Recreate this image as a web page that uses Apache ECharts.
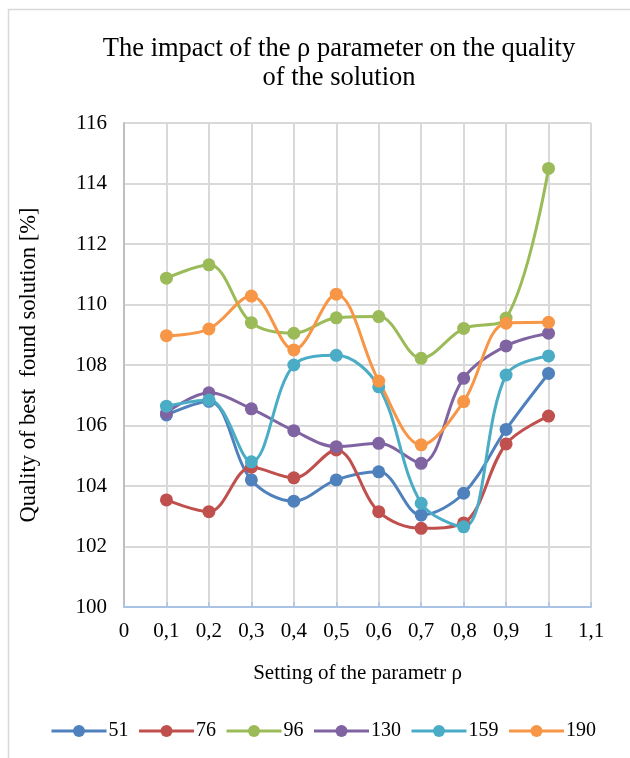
<!DOCTYPE html>
<html>
<head>
<meta charset="utf-8">
<script src="https://cdn.jsdelivr.net/npm/echarts@6/dist/echarts.min.js"></script>
<style>
  html, body { margin: 0; padding: 0; background: #fff; }
  #chart { width: 630px; height: 758px; }
</style>
</head>
<body>
<div id="chart"></div>
<script>
// Settings of the ρ parameter (x positions)
const rho = [0.1, 0.2, 0.3, 0.4, 0.5, 0.6, 0.7, 0.8, 0.9, 1.0];

// Quality of the best found solution [%] per instance size
const seriesNames = ['51', '76', '96', '130', '159', '190'];
const q51  = [106.35, 106.8, 104.2, 103.5, 104.2, 104.47, 103.04, 103.76, 105.87, 107.72];
const q76  = [103.54, 103.15, 104.62, 104.27, 105.19, 103.15, 102.6, 102.78, 105.39, 106.31];
const q96  = [110.87, 111.31, 109.4, 109.05, 109.56, 109.6, 108.22, 109.21, 109.55, 114.5];
const q130 = [106.42, 107.08, 106.55, 105.83, 105.3, 105.41, 104.75, 107.56, 108.63, 109.05];
const q159 = [106.64, 106.84, 104.8, 108.0, 108.32, 107.28, 103.43, 102.65, 107.67, 108.3];
const q190 = [108.97, 109.19, 110.28, 108.5, 110.34, 107.47, 105.36, 106.79, 109.38, 109.41];

const colors = ['#4f81bd', '#c0504d', '#9bbb59', '#8064a2', '#4bacc6', '#f79646'];
const FONT = '"Liberation Serif", "Times New Roman", serif';

const pair = vals => rho.map((x, i) => [x, vals[i]]);
const allValues = [q51, q76, q96, q130, q159, q190];

const chart = echarts.init(document.getElementById('chart'), null, { renderer: 'canvas' });

chart.setOption({
  animation: false,
  backgroundColor: '#fff',
  color: colors,
  textStyle: { fontFamily: FONT, color: '#000' },
  graphic: [{
    type: 'rect',
    shape: { x: 8.5, y: 9.5, width: 800, height: 900 },
    style: { fill: 'none', stroke: '#d9d9d9', lineWidth: 1.5 },
    silent: true
  }],
  title: {
    text: 'The impact of the ρ parameter on the quality\nof the solution',
    left: 334,
    top: 30,
    textAlign: 'center',
    textStyle: { fontFamily: FONT, fontSize: 26.5, fontWeight: 'normal', lineHeight: 29, color: '#000' }
  },
  grid: { left: 124, right: 39, top: 123, bottom: 151, containLabel: false },
  xAxis: {
    type: 'value',
    min: 0, max: 1.1, interval: 0.1,
    name: 'Setting of the parametr ρ',
    nameLocation: 'middle',
    nameGap: 56,
    nameTextStyle: { fontFamily: FONT, fontSize: 21, color: '#000' },
    axisLine: { show: true, lineStyle: { color: '#a9c3e6', width: 2 } },
    axisTick: { show: true, inside: true, length: 5, lineStyle: { color: '#a9c3e6', width: 1.5 } },
    axisLabel: {
      fontFamily: FONT, fontSize: 21, color: '#000', margin: 14,
      formatter: v => String(Math.round(v * 10) / 10).replace('.', ',')
    },
    splitLine: { show: true, lineStyle: { color: '#d9d9d9', width: 2 } }
  },
  yAxis: {
    type: 'value',
    min: 100, max: 116, interval: 2,
    name: 'Quality of best  found solution [%]',
    nameLocation: 'middle',
    nameGap: 83,
    nameTextStyle: { fontFamily: FONT, fontSize: 22.5, color: '#000' },
    axisLine: { show: true, lineStyle: { color: '#bfbfbf', width: 2 } },
    axisTick: { show: false },
    axisLabel: { fontFamily: FONT, fontSize: 21, color: '#000', margin: 17 },
    splitLine: { show: true, lineStyle: { color: '#d9d9d9', width: 2 } }
  },
  legend: {
    bottom: 12,
    left: 45,
    itemWidth: 55,
    itemHeight: 15,
    itemGap: 9,
    lineStyle: { width: 3 },
    textStyle: { fontFamily: FONT, fontSize: 20, color: '#000', padding: [0, 0, 0, -3] },
    data: seriesNames
  },
  series: seriesNames.map((name, i) => ({
    name,
    type: 'line',
    data: pair(allValues[i]),
    smooth: 0.35,
    symbol: 'circle',
    symbolSize: 13,
    lineStyle: { width: 3, color: colors[i] },
    itemStyle: { color: colors[i] }
  }))
});
</script>
</body>
</html>
